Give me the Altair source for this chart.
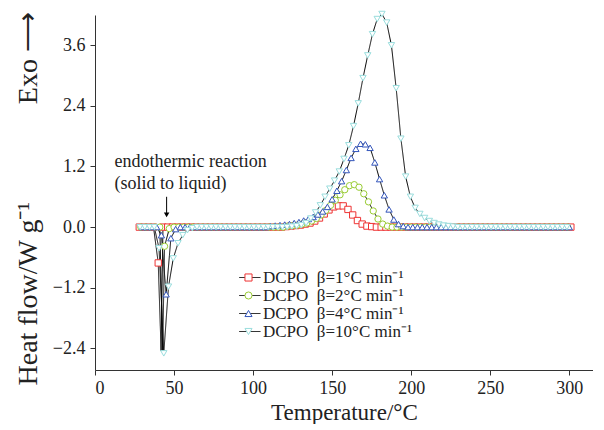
import altair as alt
import pandas as pd

SERIES = ["DCPO\u00a0\u00a0β=1°C min⁻¹", "DCPO\u00a0\u00a0β=2°C min⁻¹",
          "DCPO\u00a0\u00a0β=4°C min⁻¹", "DCPO\u00a0\u00a0β=10°C min⁻¹"]
LINE_KEYS = ["k1", "k2", "k4", "k10"]
COLORS = ["#ee3333", "#99cc33", "#3355bb", "#99dddd"]
SHAPES = ["square", "circle", "triangle-up", "triangle-down"]

# 1 °C/min
T_1 = [28, 31, 34, 37, 40, 43, 46, 49, 52, 55, 58, 61, 64, 67, 70, 73, 76, 79, 82, 85,
       88, 91, 94, 97, 100, 103, 106, 109, 112, 115, 118, 121, 124, 127, 130, 133, 136,
       139, 142, 145, 148, 151, 154, 157, 160, 163, 166, 169, 172, 175, 178, 181, 184,
       187, 190, 193, 196, 199, 202, 205, 208, 211, 214, 217, 220, 223, 226, 229, 232,
       235, 238, 241, 244, 247, 250, 253, 256, 259, 262, 265, 268, 271, 274, 277, 280,
       283, 286, 289, 292, 295, 298, 301]
HF_1 = [0, 0, 0, 0, -0.71, 0.0, 0, 0, 0, 0, 0, 0, 0, 0, 0, 0, 0, 0, 0, 0,
        0, 0, 0, 0, 0, 0, 0, 0, 0, 0, 0, 0.01, 0.02, 0.03, 0.04, 0.06, 0.08,
        0.12, 0.18, 0.26, 0.34, 0.40, 0.42, 0.42, 0.35, 0.24, 0.13, 0.06, 0.02, 0.01, 0, 0, 0,
        0, 0, 0, 0, 0, 0, 0, 0, 0, 0, 0, 0, 0, 0, 0, 0,
        0, 0, 0, 0, 0, 0, 0, 0, 0, 0, 0, 0, 0, 0, 0, 0,
        0, 0, 0, 0, 0, 0, 0]
DIP_T_1 = [41.8]
DIP_HF_1 = [-2.45]

# 2 °C/min
T_2 = [29, 32, 35, 38, 41, 44, 47, 50, 53, 56, 59, 62, 65, 68, 71, 74, 77, 80, 83, 86,
       89, 92, 95, 98, 101, 104, 107, 110, 113, 116, 119, 122, 125, 128, 131, 134, 137,
       140, 143, 146, 149, 152, 155, 158, 161, 164, 167, 170, 173, 176, 179, 182, 185,
       188, 191, 194, 197, 200, 203, 206, 209, 212, 215, 218, 221, 224, 227, 230, 233,
       236, 239, 242, 245, 248, 251, 254, 257, 260, 263, 266, 269, 272, 275, 278, 281,
       284, 287, 290, 293, 296, 299]
HF_2 = [0, 0, 0, 0, 0, -0.38, -0.03, 0, 0, 0, 0, 0, 0, 0, 0, 0, 0, 0, 0, 0,
        0, 0, 0, 0, 0, 0, 0, 0, 0, 0, 0, 0.02, 0.03, 0.04, 0.06, 0.08, 0.12,
        0.17, 0.24, 0.33, 0.43, 0.53, 0.64, 0.74, 0.82, 0.84, 0.79, 0.66, 0.50, 0.32, 0.16, 0.06, 0.02,
        0, 0, 0, 0, 0, 0, 0, 0, 0, 0, 0, 0, 0, 0, 0, 0,
        0, 0, 0, 0, 0, 0, 0, 0, 0, 0, 0, 0, 0, 0, 0, 0,
        0, 0, 0, 0, 0, 0]
DIP_T_2 = [42.8]
DIP_HF_2 = [-2.45]

# 4 °C/min
T_4 = [30, 33, 36, 39, 42, 45, 48, 51, 54, 57, 60, 63, 66, 69, 72, 75, 78, 81, 84, 87,
       90, 93, 96, 99, 102, 105, 108, 111, 114, 117, 120, 123, 126, 129, 132, 135, 138,
       141, 144, 147, 150, 153, 156, 159, 162, 165, 168, 171, 174, 177, 180, 183, 186,
       189, 192, 195, 198, 201, 204, 207, 210, 213, 216, 219, 222, 225, 228, 231, 234,
       237, 240, 243, 246, 249, 252, 255, 258, 261, 264, 267, 270, 273, 276, 279, 282,
       285, 288, 291, 294, 297, 300]
HF_4 = [0, 0, 0, 0, -0.16, -1.33, -0.22, -0.04, 0, 0, 0, 0, 0, 0, 0, 0, 0, 0, 0, 0,
        0, 0, 0, 0, 0, 0, 0, 0.02, 0.03, 0.04, 0.05, 0.06, 0.08, 0.10, 0.13, 0.16, 0.20,
        0.25, 0.31, 0.40, 0.55, 0.72, 0.91, 1.13, 1.37, 1.55, 1.65, 1.64, 1.57, 1.28, 0.95, 0.63, 0.35,
        0.15, 0.06, 0.02, 0, 0, 0, 0, 0, 0, 0, 0, 0, 0, 0, 0, 0,
        0, 0, 0, 0, 0, 0, 0, 0, 0, 0, 0, 0, 0, 0, 0, 0,
        0, 0, 0, 0, 0, 0]
DIP_T_4 = []
DIP_HF_4 = []

# 10 °C/min
T_10 = [28.5, 31.5, 34.5, 37.5, 40.5, 43.5, 46.5, 49.5, 52.5, 55.5, 58.5, 61.5, 64.5, 67.5,
        70.5, 73.5, 76.5, 79.5, 82.5, 85.5, 88.5, 91.5, 94.5, 97.5, 100.5, 103.5, 106.5,
        109.5, 112.5, 115.5, 118.5, 121.5, 124.5, 127.5, 130.5, 133.5, 136.5, 139.5, 142.5,
        145.5, 148.5, 151.5, 154.5, 157.5, 160.5, 163.5, 166.5, 169.5, 172.5, 175.5, 178.5,
        181.5, 184.5, 187.5, 190.5, 193.5, 196.5, 199.5, 202.5, 205.5, 208.5, 211.5, 214.5,
        217.5, 220.5, 223.5, 226.5, 229.5, 232.5, 235.5, 238.5, 241.5, 244.5, 247.5, 250.5,
        253.5, 256.5, 259.5, 262.5, 265.5, 268.5, 271.5, 274.5, 277.5, 280.5, 283.5, 286.5,
        289.5, 292.5, 295.5, 298.5]
HF_10 = [0, 0, 0, 0, -0.42, -2.50, -1.18, -0.62, -0.32, -0.16, -0.06, -0.02, 0, 0,
         0, 0, 0, 0, 0, 0, 0, 0, 0, 0, 0, 0, 0,
         0, 0, 0, 0, 0, 0.01, 0.02, 0.04, 0.08, 0.17, 0.29, 0.43,
         0.60, 0.76, 0.92, 1.10, 1.35, 1.62, 2.00, 2.45, 2.95, 3.40, 3.82, 4.12,
         4.22, 4.05, 3.60, 2.75, 1.75, 1.00, 0.60, 0.38, 0.26, 0.18, 0.12, 0.08,
         0.05, 0.03, 0.02, 0.01, 0, 0, 0, 0, 0, 0, 0, 0,
         0, 0, 0, 0, 0, 0, 0, 0, 0, 0, 0, 0,
         0, 0, 0, 0]
DIP_T_10 = []
DIP_HF_10 = []

ANNOT_TEXT = ["endothermic reaction", "(solid to liquid)"]
ANNOT_T = [12.3, 12.3]
ANNOT_HF = [1.29, 0.85]
ARROW_T = [45.3]
ARROW_TOP = [0.60]
ARROW_TIP = [0.24]

X_TICKS = [0, 50, 100, 150, 200, 250, 300]
Y_TICKS = [-2.4, -1.2, 0.0, 1.2, 2.4, 3.6]

FONT = "Liberation Serif"

series_data = [(T_1, HF_1, DIP_T_1, DIP_HF_1), (T_2, HF_2, DIP_T_2, DIP_HF_2),
               (T_4, HF_4, DIP_T_4, DIP_HF_4), (T_10, HF_10, DIP_T_10, DIP_HF_10)]
pts_rows, line_rows = [], []
for name, key, (ts, hs, dts, dhs) in zip(SERIES, LINE_KEYS, series_data):
    for t, h in zip(ts, hs):
        pts_rows.append({"T": t, "HF": h, "series": name})
        line_rows.append({"T": t, "HF": h, "key": key})
    for t, h in zip(dts, dhs):
        line_rows.append({"T": t, "HF": h, "key": key})
pts = pd.DataFrame(pts_rows)
lines_df = pd.DataFrame(line_rows).sort_values(["key", "T"])

xscale = alt.Scale(domain=[0, 315], nice=False, zero=False)
yscale = alt.Scale(domain=[-2.83, 4.2], nice=False, zero=False)

x_enc = alt.X("T:Q", scale=xscale,
              axis=alt.Axis(values=X_TICKS, format="d", title="Temperature/°C",
                            titlePadding=4, labelPadding=4))
y_enc = alt.Y("HF:Q", scale=yscale,
              axis=alt.Axis(values=Y_TICKS, format=".1f",
                            title="Heat flow/W g⁻¹\u2003\u2003\u2003\u2002Exo ⟶",
                            titleFontSize=28,
                            titlePadding=10, labelPadding=5,
                            titleAnchor="start", titleAlign="left", titleY=370))

LX, LY = 145, 254

line_layer = alt.Chart(lines_df).mark_line(color="black", strokeWidth=1).encode(
    x=x_enc, y=y_enc,
    strokeDash=alt.StrokeDash(
        "key:N",
        scale=alt.Scale(domain=LINE_KEYS, range=[[1, 0]] * 4),
        legend=alt.Legend(orient="none", legendX=LX, legendY=LY, title=None,
                          symbolType="M-2.6,0H3.4", symbolSize=50,
                          symbolStrokeColor="black", symbolStrokeWidth=1,
                          labelExpr="''", labelFontSize=17, labelFont=FONT,
                          rowPadding=0, padding=0, labelOffset=6),
    ),
    order="T:Q",
)

point_layer = alt.Chart(pts).mark_point(filled=False, fill="white", strokeWidth=1,
                                         size=40, opacity=1).encode(
    x="T:Q", y="HF:Q",
    color=alt.Color("series:N", scale=alt.Scale(domain=SERIES, range=COLORS),
                    legend=alt.Legend(orient="none", legendX=LX, legendY=LY, title=None,
                                      labelFont=FONT, labelFontSize=17, labelColor="#222",
                                      symbolFillColor="white", symbolStrokeWidth=1,
                                      symbolSize=50, rowPadding=0, padding=0,
                                      labelOffset=6)),
    shape=alt.Shape("series:N", scale=alt.Scale(domain=SERIES, range=SHAPES),
                    legend=alt.Legend(orient="none", legendX=LX, legendY=LY, title=None)),
)

annot_df = pd.DataFrame({"T": ANNOT_T, "HF": ANNOT_HF, "txt": ANNOT_TEXT})
annot = alt.Chart(annot_df).mark_text(align="left", baseline="middle", font=FONT,
                                      fontSize=18, color="#222").encode(
    x="T:Q", y="HF:Q", text="txt:N")

arrow_df = pd.DataFrame({"T": ARROW_T, "top": ARROW_TOP, "tip": ARROW_TIP})
arrow_rule = alt.Chart(arrow_df).mark_rule(color="black", strokeWidth=1).encode(
    x="T:Q", y="top:Q", y2="tip:Q")
arrow_head = alt.Chart(arrow_df).mark_point(shape="triangle-down", filled=True,
                                            color="black", size=30, opacity=1).encode(
    x="T:Q", y="tip:Q")

chart = alt.layer(line_layer, point_layer, annot, arrow_rule, arrow_head).properties(
    width=498, height=355,
    padding={"left": 6, "top": 1, "right": 0, "bottom": 0},
).configure_view(stroke=None).configure_axis(
    grid=False, domainColor="#333", tickColor="#333", tickSize=5,
    labelFont=FONT, labelFontSize=18, labelColor="#222",
    titleFont=FONT, titleFontSize=23, titleFontWeight="normal", titleColor="#222",
)

chart.save("out.html", embed_options={"renderer": "svg", "actions": False})
